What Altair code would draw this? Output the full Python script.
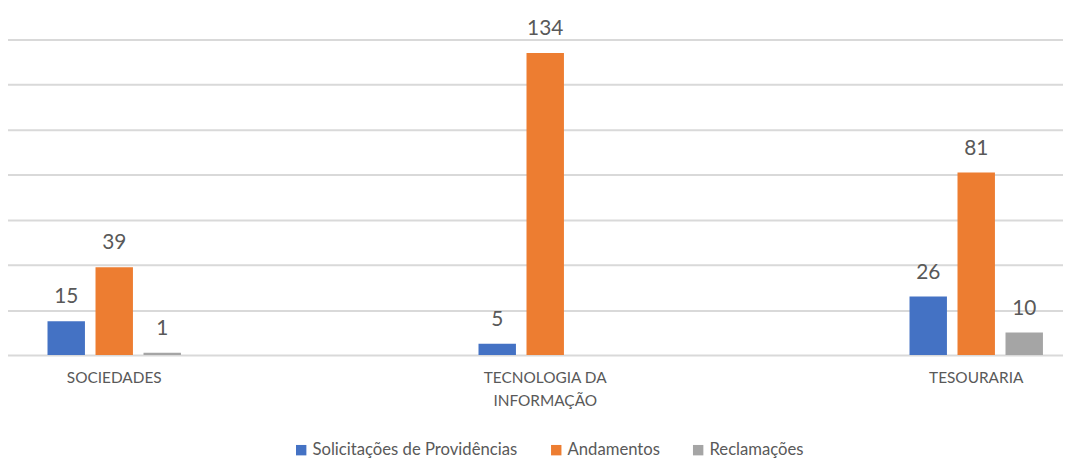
import altair as alt
import pandas as pd

categories = ["SOCIEDADES", "TECNOLOGIA DA INFORMAÇÃO", "TESOURARIA"]
series = ["Solicitações de Providências", "Andamentos", "Reclamações"]
solicitacoes = [15, 5, 26]
andamentos = [39, 134, 81]
reclamacoes = [1, 0, 10]
colors = ["#4472C4", "#ED7D31", "#A5A5A5"]

rows = []
for i, c in enumerate(categories):
    for s, vals in zip(series, [solicitacoes, andamentos, reclamacoes]):
        rows.append({"cat": c, "serie": s, "value": vals[i]})
df = pd.DataFrame(rows)

FONT = "Lato"
TXT = "#595959"

PI = 1 - 144 / 431
x = alt.X("cat:N", sort=categories, title=None,
          scale=alt.Scale(range=[-110.1, 1192.7], paddingInner=PI, paddingOuter=PI / 2),
          axis=alt.Axis(domain=False, ticks=False, labelAngle=0, labelFont=FONT,
                        labelFontSize=15.5, labelColor=TXT, labelPadding=16,
                        labelLineHeight=23, labelBaseline="top",
                        labelExpr="datum.value == 'TECNOLOGIA DA INFORMAÇÃO' ? ['TECNOLOGIA DA', 'INFORMAÇÃO'] : datum.label"))
xo = alt.XOffset("serie:N", sort=series,
                 scale=alt.Scale(paddingInner=0.22, paddingOuter=0.11))
y = alt.Y("value:Q", title=None,
          scale=alt.Scale(domain=[0, 140], nice=False),
          axis=alt.Axis(values=[0, 20, 40, 60, 80, 100, 120, 140], labels=False,
                        ticks=False, domain=False, grid=True, gridColor="#D9D9D9",
                        gridWidth=2))

base = alt.Chart(df)
bars = base.mark_bar().encode(
    x=x, xOffset=xo, y=y,
    color=alt.Color("serie:N", sort=series,
                    scale=alt.Scale(domain=series, range=colors),
                    legend=alt.Legend(title=None, orient="none", direction="horizontal",
                                      legendX=287, legendY=405,
                                      symbolType="square", symbolSize=110,
                                      symbolStrokeWidth=0, labelLimit=400,
                                      labelFont=FONT, labelFontSize=16.8, labelColor=TXT,
                                      labelOffset=3, columnPadding=30)),
)
labels = base.mark_text(font=FONT, fontSize=21, color=TXT, baseline="alphabetic",
                        dy=-18).encode(
    x=x, xOffset=xo, y=y, text="value:Q"
).transform_filter("datum.value > 0")

chart = alt.layer(bars, labels).properties(
    width=1057, height=318,
    autosize=alt.AutoSizeParams(type="none"),
    padding={"left": 0, "top": 30, "right": 6, "bottom": 106},
).configure_view(stroke=None)

chart.save("out.html", embed_options={"renderer": "svg", "actions": False})
